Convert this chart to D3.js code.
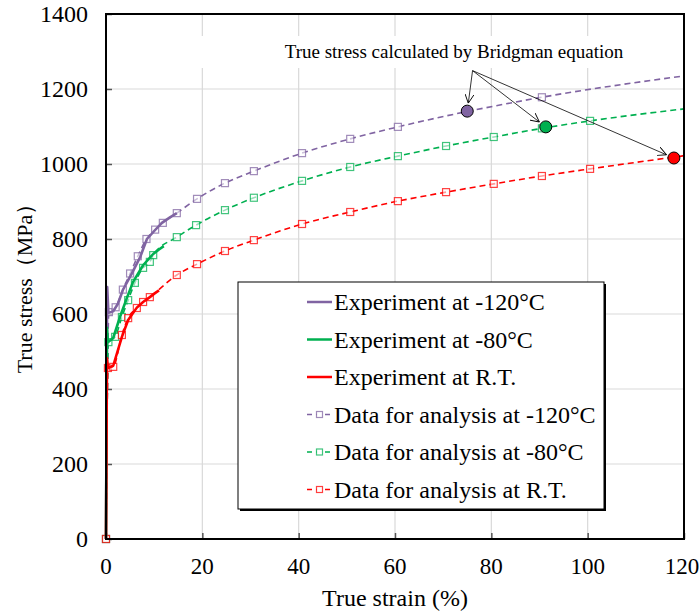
<!DOCTYPE html>
<html>
<head>
<meta charset="utf-8">
<script src="https://cdn.jsdelivr.net/npm/d3@7"></script>
<style>
  body { margin: 0; background: #fff; }
</style>
</head>
<body>
<div id="chart"></div>
<script>
// Chart size
const width = 699;
const height = 613;
const margin = { top: 14, right: 15, bottom: 74, left: 106 };
const font = "Liberation Serif";

// Tick values
const xTicks = [0, 20, 40, 60, 80, 100, 120];
const yTicks = [0, 200, 400, 600, 800, 1000, 1200, 1400];

// Experiment curves (strain %, stress MPa)
const expStrain120 = [0, 0.25, 0.5, 1.5, 2.5, 3.5, 5.4, 7.1, 8.5, 10.2, 11.6, 13.2, 14.7];
const expStress120 = [0, 672, 603, 607, 628, 664, 709, 752, 800, 824, 843, 857, 869];
const expStrain80 = [0, 0.2, 0.4, 1.5, 2.9, 4.4, 5.6, 7.7, 9.8, 11, 12];
const expStress80 = [0, 563, 525, 536, 592, 645, 685, 730, 760, 772, 781];
const expStrainRT = [0, 0.2, 0.4, 1.5, 3.3, 4.6, 6.4, 7.7, 9.1, 10.1, 11];
const expStressRT = [0, 482, 456, 462, 539, 584, 617, 632, 645, 655, 663];

// Data for analysis (dashed, square markers)
const anaStrain120 = [0, 0.6, 2, 3.5, 5, 6.6, 8.4, 10.2, 11.8, 14.7, 18.9, 24.7, 30.7, 40.7, 50.7, 60.6, 90.5, 120];
const anaStress120 = [0, 605, 618, 665, 708, 754, 800, 825, 843, 869, 907, 949, 981, 1029, 1067, 1099, 1178, 1235];
const anaStrain80 = [0, 0.5, 1.9, 3.3, 4.6, 6, 7.7, 9.1, 9.8, 14.7, 18.7, 24.7, 30.7, 40.7, 50.7, 60.6, 70.6, 80.5, 90.5, 100.5, 120];
const anaStress80 = [0, 525, 539, 592, 637, 683, 723, 739, 757, 805, 837, 877, 910, 955, 992, 1021, 1048, 1072, 1095, 1115, 1147];
const anaStrainRT = [0, 0.4, 1.5, 3.3, 4.6, 6.4, 7.7, 9.1, 14.7, 18.9, 24.7, 30.7, 40.7, 50.7, 60.6, 70.6, 80.5, 90.5, 100.5, 120];
const anaStressRT = [0, 456, 459, 544, 589, 616, 632, 645, 704, 733, 768, 797, 840, 872, 901, 925, 947, 968, 987, 1022];

// Bridgman points
const bridgStrain = [75, 91.3, 117.9];
const bridgStress = [1141, 1099, 1016];
const bridgOrigin = [76.1, 1249];
const noteText = "True stress calculated by Bridgman equation";

const colors = ["#8064A2", "#00B050", "#FF0000"];
const expLabels = ["Experiment at -120°C", "Experiment at -80°C", "Experiment at R.T."];
const anaLabels = ["Data for analysis at -120°C", "Data for analysis at -80°C", "Data for analysis at R.T."];

const zip = (xs, ys) => xs.map((x, i) => [x, ys[i]]);
const expData = [zip(expStrain120, expStress120), zip(expStrain80, expStress80), zip(expStrainRT, expStressRT)];
const anaData = [zip(anaStrain120, anaStress120), zip(anaStrain80, anaStress80), zip(anaStrainRT, anaStressRT)];

const svg = d3.select("#chart").append("svg")
  .attr("width", width)
  .attr("height", height)
  .style("font-family", font);

const x = d3.scaleLinear().domain([0, 120]).range([margin.left, width - margin.right]);
const y = d3.scaleLinear().domain([0, 1400]).range([height - margin.bottom, margin.top]);

// Grid lines
svg.append("g")
  .selectAll("line")
  .data(xTicks)
  .enter().append("line")
  .attr("x1", (d) => x(d)).attr("x2", (d) => x(d))
  .attr("y1", y(0)).attr("y2", y(1400))
  .attr("stroke", "#d9d9d9").attr("stroke-width", 1.2);

svg.append("g")
  .selectAll("line")
  .data(yTicks)
  .enter().append("line")
  .attr("x1", x(0)).attr("x2", x(120))
  .attr("y1", (d) => y(d)).attr("y2", (d) => y(d))
  .attr("stroke", "#d9d9d9").attr("stroke-width", 1.2);

// Inward ticks
svg.append("g")
  .attr("transform", `translate(0,${y(0)})`)
  .call(d3.axisTop(x).tickValues(xTicks).tickSize(6).tickFormat(""))
  .call((g) => g.select(".domain").remove())
  .call((g) => g.selectAll("line").attr("stroke", "#555").attr("stroke-width", 1.5));

svg.append("g")
  .attr("transform", `translate(${x(0)},0)`)
  .call(d3.axisRight(y).tickValues(yTicks).tickSize(6).tickFormat(""))
  .call((g) => g.select(".domain").remove())
  .call((g) => g.selectAll("line").attr("stroke", "#555").attr("stroke-width", 1.5));

// Tick labels (last one kept inside the page edge)
svg.append("g")
  .selectAll("text")
  .data(xTicks)
  .enter().append("text")
  .attr("x", (d) => Math.min(x(d), width - 17))
  .attr("y", 574)
  .attr("text-anchor", "middle")
  .style("font-family", font)
  .style("font-size", "23px")
  .text((d) => d);

svg.append("g")
  .selectAll("text")
  .data(yTicks)
  .enter().append("text")
  .attr("x", 88)
  .attr("y", (d) => y(d) + 8)
  .attr("text-anchor", "end")
  .style("font-family", font)
  .style("font-size", "24px")
  .text((d) => d);

// Axis titles
svg.append("text")
  .attr("x", x(60))
  .attr("y", 606)
  .attr("text-anchor", "middle")
  .style("font-family", font)
  .style("font-size", "24px")
  .text("True strain (%)");

svg.append("text")
  .attr("transform", "translate(32,283) rotate(-90)")
  .attr("text-anchor", "middle")
  .style("font-family", font)
  .style("font-size", "22px")
  .text("True stress（MPa）");

// Analysis dashed lines + markers
const anaLine = d3.line().x((d) => x(d[0])).y((d) => y(d[1])).curve(d3.curveMonotoneX);
const expLine = d3.line().x((d) => x(d[0])).y((d) => y(d[1]));

anaData.forEach((data, i) => {
  svg.append("path")
    .datum(data)
    .attr("d", anaLine)
    .attr("fill", "none")
    .attr("stroke", colors[i])
    .attr("stroke-width", 1.6)
    .attr("stroke-dasharray", "6,4");
});

anaData.forEach((data, i) => {
  svg.append("g")
    .selectAll("rect")
    .data(data.filter((d) => d[0] < 120))
    .enter().append("rect")
    .attr("x", (d) => x(d[0]) - 3.5)
    .attr("y", (d) => y(d[1]) - 3.5)
    .attr("width", 7)
    .attr("height", 7)
    .attr("fill", "#fff")
    .attr("fill-opacity", 0.6)
    .attr("stroke", colors[i])
    .attr("stroke-opacity", 0.75)
    .attr("stroke-width", 1.2);
});

// Experiment solid lines
expData.forEach((data, i) => {
  svg.append("path")
    .datum(data)
    .attr("d", expLine)
    .attr("fill", "none")
    .attr("stroke", colors[i])
    .attr("stroke-width", 2.6)
    .attr("stroke-linejoin", "round");
});

// Frame
svg.append("rect")
  .attr("x", x(0)).attr("y", y(1400))
  .attr("width", x(120) - x(0)).attr("height", y(0) - y(1400))
  .attr("fill", "none")
  .attr("stroke", "#000")
  .attr("stroke-width", 2);

// Annotation
svg.append("rect")
  .attr("x", 200).attr("y", 36)
  .attr("width", 440).attr("height", 32)
  .attr("fill", "#fff");

svg.append("text")
  .attr("x", 454)
  .attr("y", 58)
  .attr("text-anchor", "middle")
  .style("font-family", font)
  .style("font-size", "19px")
  .text(noteText);

svg.append("defs").append("marker")
  .attr("id", "arrow")
  .attr("viewBox", "0 0 10 10")
  .attr("refX", 10).attr("refY", 5)
  .attr("markerWidth", 9).attr("markerHeight", 9)
  .attr("markerUnits", "userSpaceOnUse")
  .attr("orient", "auto")
  .append("path")
  .attr("d", "M0,0 L10,5 L0,10")
  .attr("fill", "none")
  .attr("stroke", "#000")
  .attr("stroke-width", 1);

const ox = x(bridgOrigin[0]);
const oy = y(bridgOrigin[1]);
bridgStrain.forEach((s, i) => {
  const cx = x(s);
  const cy = y(bridgStress[i]);
  const dx = cx - ox;
  const dy = cy - oy;
  const len = Math.sqrt(dx * dx + dy * dy);
  const cut = 8;
  svg.append("line")
    .attr("x1", ox).attr("y1", oy)
    .attr("x2", cx - dx / len * cut).attr("y2", cy - dy / len * cut)
    .attr("stroke", "#000")
    .attr("stroke-width", 0.8)
    .attr("marker-end", "url(#arrow)");
});

svg.append("g")
  .selectAll("circle")
  .data(bridgStrain)
  .enter().append("circle")
  .attr("cx", (d) => x(d))
  .attr("cy", (d, i) => y(bridgStress[i]))
  .attr("r", 6)
  .attr("fill", (d, i) => colors[i])
  .attr("stroke", "#000")
  .attr("stroke-width", 1);

// Legend
const lg = svg.append("g").attr("transform", "translate(238,282)");
lg.append("rect")
  .attr("x", 2).attr("y", 2)
  .attr("width", 366).attr("height", 227)
  .attr("fill", "#000");
lg.append("rect")
  .attr("x", 0).attr("y", 0)
  .attr("width", 366).attr("height", 227)
  .attr("fill", "#fff")
  .attr("stroke", "#000")
  .attr("stroke-width", 1);

const rowY = (i) => 20 + i * 37.5;
expLabels.forEach((label, i) => {
  lg.append("line")
    .attr("x1", 69).attr("x2", 94)
    .attr("y1", rowY(i)).attr("y2", rowY(i))
    .attr("stroke", colors[i])
    .attr("stroke-width", 2.5);
  lg.append("text")
    .attr("x", 96).attr("y", rowY(i) + 8)
    .style("font-family", font)
    .style("font-size", "24px")
    .text(label);
});

anaLabels.forEach((label, i) => {
  const ry = rowY(i + 3);
  lg.append("line")
    .attr("x1", 69).attr("x2", 94)
    .attr("y1", ry).attr("y2", ry)
    .attr("stroke", colors[i])
    .attr("stroke-width", 1.6)
    .attr("stroke-dasharray", "5,4");
  lg.append("rect")
    .attr("x", 78.5).attr("y", ry - 3)
    .attr("width", 6).attr("height", 6)
    .attr("fill", "#fff")
    .attr("stroke", colors[i])
    .attr("stroke-opacity", 0.75)
    .attr("stroke-width", 1.2);
  lg.append("text")
    .attr("x", 96).attr("y", ry + 8)
    .style("font-family", font)
    .style("font-size", "24px")
    .text(label);
});
</script>
</body>
</html>
